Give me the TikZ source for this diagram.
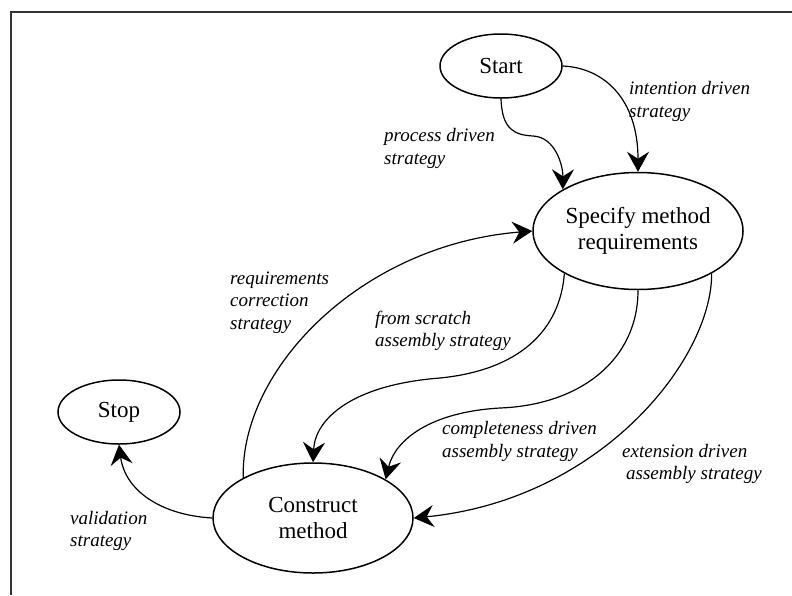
\documentclass[tikz,border=0pt]{standalone}
\usepackage{fontspec}
\setmainfont{Liberation Serif}
\usetikzlibrary{shapes.geometric,arrows.meta}
\begin{document}
\begin{tikzpicture}[x=1pt,y=-1pt,
  state/.style={ellipse,draw,line width=1.5pt,inner sep=0pt,align=center,font=\fontsize{23}{26}\selectfont},
  lbl/.style={anchor=west,inner sep=0pt,align=left,font=\fontsize{19}{22.5}\selectfont\itshape},
  edge/.style={line width=1.2pt,-{Stealth[length=20pt,width=22pt,inset=7pt]}},
  frame/.style={line width=1.3pt,black!80}]
\useasboundingbox (0,0) rectangle (792,595);
\draw[frame] (11,595) -- (11,12) -- (792,12);

\node[state,minimum width=122,minimum height=64] (start) at (501,66) {Start};
\node[state,minimum width=210,minimum height=117] (spec) at (638,231) {Specify method\\requirements};
\node[state,minimum width=122,minimum height=64] (stop) at (119,412) {Stop};
\node[state,minimum width=200,minimum height=110] (cons) at (313,518) {Construct\\method};

\draw[edge] (start.south) .. controls (502,130) and (515,135) .. (533,136)
  .. controls (555,137) and (563,165) .. (spec.151);
\draw[edge] (start.east) .. controls (605,68) and (638,100) .. (spec.north);
\draw[edge] (cons.150) .. controls (240,370) and (360,245) .. (spec.west);
\draw[edge] (spec.210) .. controls (560,330) and (520,370) .. (440,378)
  .. controls (350,385) and (315,420) .. (cons.north);
\draw[edge] (spec.south) .. controls (638,360) and (580,405) .. (500,408)
  .. controls (430,412) and (395,440) .. (cons.28);
\draw[edge] (spec.330) .. controls (712,360) and (600,500) .. (cons.east);
\draw[edge] (cons.west) .. controls (160,515) and (125,490) .. (stop.south);

\node[lbl] (l1) at (384,148.5) {process driven\\strategy};
\node[lbl] (l2) at (629,101.5) {intention driven\\strategy};
\node[lbl] (l3) at (230,302.5) {requirements\\correction\\strategy};
\node[lbl] (l4) at (375,331) {from scratch\\assembly strategy};
\node[lbl] (l5) at (442,441.5) {completeness driven\\assembly strategy};
\node[lbl] (l6) at (622,464) {extension driven\\\hspace{4pt}assembly strategy};
\node[lbl] (l7) at (70,531) {validation\\strategy};
\end{tikzpicture}
\end{document}
